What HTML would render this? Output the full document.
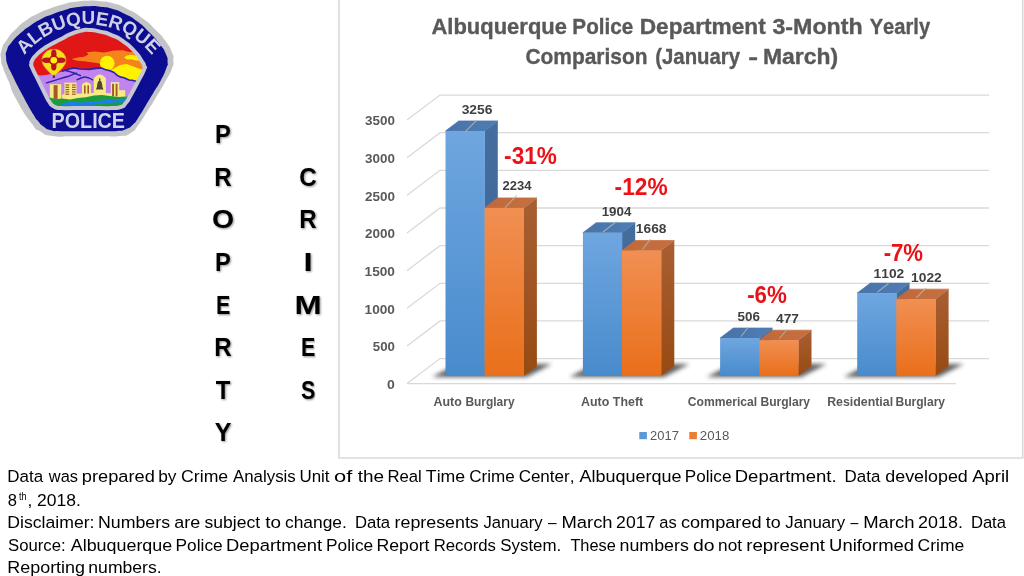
<!DOCTYPE html>
<html><head><meta charset="utf-8"><title>Property Crimes</title>
<style>
html,body{margin:0;padding:0;background:#fff;}
body{width:1024px;height:576px;position:relative;overflow:hidden;font-family:"Liberation Sans",sans-serif;}
svg text{font-family:"Liberation Sans",sans-serif;font-kerning:none;}
</style></head><body>
<svg width="1024" height="576" viewBox="0 0 1024 576" style="position:absolute;left:0;top:0;filter:blur(0.4px)">
<defs>
<linearGradient id="gb" x1="0" y1="0" x2="0" y2="1"><stop offset="0" stop-color="#6fa6e0"/><stop offset="1" stop-color="#488bcc"/></linearGradient>
<linearGradient id="go" x1="0" y1="0" x2="0" y2="1"><stop offset="0" stop-color="#f18f52"/><stop offset="1" stop-color="#e96f1a"/></linearGradient>
<linearGradient id="gbs" x1="0" y1="0" x2="0" y2="1"><stop offset="0" stop-color="#456d9e"/><stop offset="1" stop-color="#3b6396"/></linearGradient>
<linearGradient id="gos" x1="0" y1="0" x2="0" y2="1"><stop offset="0" stop-color="#a85f33"/><stop offset="1" stop-color="#984a12"/></linearGradient>
<linearGradient id="gbt" x1="0" y1="0" x2="1" y2="0"><stop offset="0" stop-color="#4873a8"/><stop offset="1" stop-color="#4e7db5"/></linearGradient>
<linearGradient id="got" x1="0" y1="0" x2="1" y2="0"><stop offset="0" stop-color="#c0683a"/><stop offset="1" stop-color="#c67041"/></linearGradient>
<filter id="sh" x="-20%" y="-60%" width="140%" height="220%"><feGaussianBlur stdDeviation="1.9"/></filter>
<filter id="ts" x="-30%" y="-30%" width="170%" height="170%"><feGaussianBlur in="SourceAlpha" stdDeviation="0.9" result="b"/><feOffset in="b" dx="0.9" dy="1" result="o"/><feComponentTransfer in="o" result="s"><feFuncA type="linear" slope="0.45"/></feComponentTransfer><feMerge><feMergeNode in="s"/><feMergeNode in="SourceGraphic"/></feMerge></filter>
</defs>
<path d="M339,0 V458 H1022.7 V0" fill="none" stroke="#d9d9d9" stroke-width="1.6"/>
<path d="M407.00,383.60 L440.00,358.60 H989.00" fill="none" stroke="#d9d9d9" stroke-width="1.3"/>
<path d="M407.00,345.95 L440.00,320.95 H989.00" fill="none" stroke="#d9d9d9" stroke-width="1.3"/>
<path d="M407.00,308.30 L440.00,283.30 H989.00" fill="none" stroke="#d9d9d9" stroke-width="1.3"/>
<path d="M407.00,270.65 L440.00,245.65 H989.00" fill="none" stroke="#d9d9d9" stroke-width="1.3"/>
<path d="M407.00,233.00 L440.00,208.00 H989.00" fill="none" stroke="#d9d9d9" stroke-width="1.3"/>
<path d="M407.00,195.35 L440.00,170.35 H989.00" fill="none" stroke="#d9d9d9" stroke-width="1.3"/>
<path d="M407.00,157.70 L440.00,132.70 H989.00" fill="none" stroke="#d9d9d9" stroke-width="1.3"/>
<path d="M407.00,120.05 L440.00,95.05 H989.00" fill="none" stroke="#d9d9d9" stroke-width="1.3"/>
<path d="M407.00,383.60 H956.00" fill="none" stroke="#d9d9d9" stroke-width="1.3"/>
<polygon points="432.00,377.00 526.70,377.00 551.90,363.90 457.20,363.90" fill="#3c3c3c" opacity="0.82" filter="url(#sh)"/>
<polygon points="569.40,377.00 664.10,377.00 689.30,363.90 594.60,363.90" fill="#3c3c3c" opacity="0.82" filter="url(#sh)"/>
<polygon points="706.60,377.00 801.30,377.00 826.50,363.90 731.80,363.90" fill="#3c3c3c" opacity="0.82" filter="url(#sh)"/>
<polygon points="843.70,377.00 938.40,377.00 963.60,363.90 868.90,363.90" fill="#3c3c3c" opacity="0.82" filter="url(#sh)"/>
<polygon points="484.60,130.92 497.80,120.92 497.80,366.10 484.60,376.10" fill="url(#gbs)"/>
<polygon points="445.50,130.92 458.70,120.92 497.80,120.92 484.60,130.92" fill="url(#gbt)" stroke="#4b78ae" stroke-width="0.7" stroke-linejoin="round"/>
<rect x="445.50" y="130.92" width="39.40" height="245.18" fill="url(#gb)"/>
<polygon points="523.70,207.88 536.90,197.88 536.90,366.10 523.70,376.10" fill="url(#gos)"/>
<polygon points="484.60,207.88 497.80,197.88 536.90,197.88 523.70,207.88" fill="url(#got)" stroke="#c36c3d" stroke-width="0.7" stroke-linejoin="round"/>
<rect x="484.60" y="207.88" width="39.40" height="168.22" fill="url(#go)"/>
<polygon points="622.00,232.73 635.20,222.73 635.20,366.10 622.00,376.10" fill="url(#gbs)"/>
<polygon points="582.90,232.73 596.10,222.73 635.20,222.73 622.00,232.73" fill="url(#gbt)" stroke="#4b78ae" stroke-width="0.7" stroke-linejoin="round"/>
<rect x="582.90" y="232.73" width="39.40" height="143.37" fill="url(#gb)"/>
<polygon points="661.10,250.50 674.30,240.50 674.30,366.10 661.10,376.10" fill="url(#gos)"/>
<polygon points="622.00,250.50 635.20,240.50 674.30,240.50 661.10,250.50" fill="url(#got)" stroke="#c36c3d" stroke-width="0.7" stroke-linejoin="round"/>
<rect x="622.00" y="250.50" width="39.40" height="125.60" fill="url(#go)"/>
<polygon points="759.20,338.00 772.40,328.00 772.40,366.10 759.20,376.10" fill="url(#gbs)"/>
<polygon points="720.10,338.00 733.30,328.00 772.40,328.00 759.20,338.00" fill="url(#gbt)" stroke="#4b78ae" stroke-width="0.7" stroke-linejoin="round"/>
<rect x="720.10" y="338.00" width="39.40" height="38.10" fill="url(#gb)"/>
<polygon points="798.30,340.18 811.50,330.18 811.50,366.10 798.30,376.10" fill="url(#gos)"/>
<polygon points="759.20,340.18 772.40,330.18 811.50,330.18 798.30,340.18" fill="url(#got)" stroke="#c36c3d" stroke-width="0.7" stroke-linejoin="round"/>
<rect x="759.20" y="340.18" width="39.40" height="35.92" fill="url(#go)"/>
<polygon points="896.30,293.12 909.50,283.12 909.50,366.10 896.30,376.10" fill="url(#gbs)"/>
<polygon points="857.20,293.12 870.40,283.12 909.50,283.12 896.30,293.12" fill="url(#gbt)" stroke="#4b78ae" stroke-width="0.7" stroke-linejoin="round"/>
<rect x="857.20" y="293.12" width="39.40" height="82.98" fill="url(#gb)"/>
<polygon points="935.40,299.14 948.60,289.14 948.60,366.10 935.40,376.10" fill="url(#gos)"/>
<polygon points="896.30,299.14 909.50,289.14 948.60,289.14 935.40,299.14" fill="url(#got)" stroke="#c36c3d" stroke-width="0.7" stroke-linejoin="round"/>
<rect x="896.30" y="299.14" width="39.40" height="76.96" fill="url(#go)"/>
<line x1="476.9" y1="120.0" x2="465.6" y2="131.4" stroke="#b4bcb0" stroke-width="1.1" opacity="0.8"/>
<line x1="516.8" y1="195.3" x2="505.0" y2="207.6" stroke="#b4bcb0" stroke-width="1.1" opacity="0.8"/>
<line x1="616.5" y1="221.5" x2="603.0" y2="232.0" stroke="#b4bcb0" stroke-width="1.1" opacity="0.8"/>
<line x1="650.5" y1="239.0" x2="642.5" y2="249.5" stroke="#b4bcb0" stroke-width="1.1" opacity="0.8"/>
<line x1="748.0" y1="327.5" x2="741.0" y2="336.5" stroke="#b4bcb0" stroke-width="1.1" opacity="0.8"/>
<line x1="787.0" y1="329.5" x2="779.5" y2="338.5" stroke="#b4bcb0" stroke-width="1.1" opacity="0.8"/>
<line x1="888.5" y1="283.5" x2="877.5" y2="292.0" stroke="#b4bcb0" stroke-width="1.1" opacity="0.8"/>
<line x1="926.0" y1="288.0" x2="916.5" y2="297.5" stroke="#b4bcb0" stroke-width="1.1" opacity="0.8"/>
<text y="33.75" font-size="22.2" fill="#595959" font-weight="bold" stroke="#595959" stroke-width="0.35"><tspan x="431.45" textLength="135.55" lengthAdjust="spacingAndGlyphs">Albuquerque</tspan> <tspan x="572.37" textLength="60.84" lengthAdjust="spacingAndGlyphs">Police</tspan> <tspan x="639.73" textLength="126.04" lengthAdjust="spacingAndGlyphs">Department</tspan> <tspan x="772.47" textLength="90.22" lengthAdjust="spacingAndGlyphs">3-Month</tspan> <tspan x="869.66" textLength="60.45" lengthAdjust="spacingAndGlyphs">Yearly</tspan></text>
<text y="63.75" font-size="22.2" fill="#595959" font-weight="bold" stroke="#595959" stroke-width="0.35"><tspan x="525.39" textLength="122.16" lengthAdjust="spacingAndGlyphs">Comparison</tspan> <tspan x="655.24" textLength="84.87" lengthAdjust="spacingAndGlyphs">(January</tspan> <tspan x="748.35" textLength="9.84" lengthAdjust="spacingAndGlyphs">-</tspan> <tspan x="762.97" textLength="75.18" lengthAdjust="spacingAndGlyphs">March)</tspan></text>
<text x="387.14" y="388.95" font-size="13.3" fill="#595959" font-weight="bold" textLength="7.84" lengthAdjust="spacingAndGlyphs" >0</text>
<text x="372.79" y="351.3" font-size="13.3" fill="#595959" font-weight="bold" textLength="22.15" lengthAdjust="spacingAndGlyphs" >500</text>
<text x="364.54" y="313.65" font-size="13.3" fill="#595959" font-weight="bold" textLength="30.42" lengthAdjust="spacingAndGlyphs" >1000</text>
<text x="364.54" y="276.0" font-size="13.3" fill="#595959" font-weight="bold" textLength="30.42" lengthAdjust="spacingAndGlyphs" >1500</text>
<text x="364.93" y="238.35" font-size="13.3" fill="#595959" font-weight="bold" textLength="30.02" lengthAdjust="spacingAndGlyphs" >2000</text>
<text x="364.93" y="200.7" font-size="13.3" fill="#595959" font-weight="bold" textLength="30.02" lengthAdjust="spacingAndGlyphs" >2500</text>
<text x="365.09" y="163.05" font-size="13.3" fill="#595959" font-weight="bold" textLength="29.86" lengthAdjust="spacingAndGlyphs" >3000</text>
<text x="365.09" y="125.4" font-size="13.3" fill="#595959" font-weight="bold" textLength="29.86" lengthAdjust="spacingAndGlyphs" >3500</text>
<text x="461.68" y="114.25" font-size="13.3" fill="#404040" font-weight="bold" textLength="30.82" lengthAdjust="spacingAndGlyphs" >3256</text>
<text x="502.55" y="190" font-size="13.3" fill="#404040" font-weight="bold" textLength="29.02" lengthAdjust="spacingAndGlyphs" >2234</text>
<text x="601.66" y="216" font-size="13.3" fill="#404040" font-weight="bold" textLength="29.66" lengthAdjust="spacingAndGlyphs" >1904</text>
<text x="635.89" y="232.5" font-size="13.3" fill="#404040" font-weight="bold" textLength="30.54" lengthAdjust="spacingAndGlyphs" >1668</text>
<text x="737.59" y="321" font-size="13.3" fill="#404040" font-weight="bold" textLength="22.4" lengthAdjust="spacingAndGlyphs" >506</text>
<text x="776.04" y="323.25" font-size="13.3" fill="#404040" font-weight="bold" textLength="22.81" lengthAdjust="spacingAndGlyphs" >477</text>
<text x="873.63" y="277.5" font-size="13.3" fill="#404040" font-weight="bold" textLength="30.67" lengthAdjust="spacingAndGlyphs" >1102</text>
<text x="911.13" y="282" font-size="13.3" fill="#404040" font-weight="bold" textLength="30.67" lengthAdjust="spacingAndGlyphs" >1022</text>
<text x="504.12" y="163.9" font-size="23.4" fill="#ec1116" font-weight="bold" textLength="52.73" lengthAdjust="spacingAndGlyphs" >-31%</text>
<text x="614.61" y="194.6" font-size="23.4" fill="#ec1116" font-weight="bold" textLength="52.99" lengthAdjust="spacingAndGlyphs" >-12%</text>
<text x="747.13" y="303.2" font-size="23.4" fill="#ec1116" font-weight="bold" textLength="39.71" lengthAdjust="spacingAndGlyphs" >-6%</text>
<text x="883.63" y="260.9" font-size="23.4" fill="#ec1116" font-weight="bold" textLength="39.45" lengthAdjust="spacingAndGlyphs" >-7%</text>
<text y="405.75" font-size="13.4" fill="#595959" font-weight="bold" ><tspan x="433.44" textLength="28.29" lengthAdjust="spacingAndGlyphs">Auto</tspan> <tspan x="465.45" textLength="49.11" lengthAdjust="spacingAndGlyphs">Burglary</tspan></text>
<text y="405.75" font-size="13.4" fill="#595959" font-weight="bold" ><tspan x="580.94" textLength="28.29" lengthAdjust="spacingAndGlyphs">Auto</tspan> <tspan x="612.86" textLength="30.29" lengthAdjust="spacingAndGlyphs">Theft</tspan></text>
<text y="405.75" font-size="13.4" fill="#595959" font-weight="bold" ><tspan x="687.75" textLength="69.35" lengthAdjust="spacingAndGlyphs">Commerical</tspan> <tspan x="760.44" textLength="49.62" lengthAdjust="spacingAndGlyphs">Burglary</tspan></text>
<text y="405.75" font-size="13.4" fill="#595959" font-weight="bold" ><tspan x="827.17" textLength="65.95" lengthAdjust="spacingAndGlyphs">Residential</tspan> <tspan x="895.44" textLength="49.62" lengthAdjust="spacingAndGlyphs">Burglary</tspan></text>
<rect x="639.3" y="432" width="7.6" height="7.2" fill="#5b9bd5"/>
<rect x="689.3" y="432" width="7.6" height="7.2" fill="#ed7d31"/>
<text x="650.1" y="440" font-size="13.5" fill="#595959" font-weight="normal" textLength="28.8" lengthAdjust="spacingAndGlyphs" >2017</text>
<text x="699.83" y="440" font-size="13.5" fill="#595959" font-weight="normal" textLength="29.49" lengthAdjust="spacingAndGlyphs" >2018</text>
<text transform="translate(223.0,143.4) scale(0.9,1)" x="0" y="0" font-size="26.3" font-weight="bold" fill="#000" text-anchor="middle" filter="url(#ts)">P</text>
<text transform="translate(223.0,185.94) scale(0.92,1)" x="0" y="0" font-size="26.3" font-weight="bold" fill="#000" text-anchor="middle" filter="url(#ts)">R</text>
<text transform="translate(223.0,228.48) scale(1.08,1)" x="0" y="0" font-size="26.3" font-weight="bold" fill="#000" text-anchor="middle" filter="url(#ts)">O</text>
<text transform="translate(223.0,271.02) scale(0.9,1)" x="0" y="0" font-size="26.3" font-weight="bold" fill="#000" text-anchor="middle" filter="url(#ts)">P</text>
<text transform="translate(223.0,313.56) scale(0.81,1)" x="0" y="0" font-size="26.3" font-weight="bold" fill="#000" text-anchor="middle" filter="url(#ts)">E</text>
<text transform="translate(223.0,356.1) scale(0.92,1)" x="0" y="0" font-size="26.3" font-weight="bold" fill="#000" text-anchor="middle" filter="url(#ts)">R</text>
<text transform="translate(223.0,398.64) scale(0.91,1)" x="0" y="0" font-size="26.3" font-weight="bold" fill="#000" text-anchor="middle" filter="url(#ts)">T</text>
<text transform="translate(223.0,441.18) scale(0.95,1)" x="0" y="0" font-size="26.3" font-weight="bold" fill="#000" text-anchor="middle" filter="url(#ts)">Y</text>
<text transform="translate(308.0,185.94) scale(0.92,1)" x="0" y="0" font-size="26.3" font-weight="bold" fill="#000" text-anchor="middle" filter="url(#ts)">C</text>
<text transform="translate(308.0,228.48) scale(0.92,1)" x="0" y="0" font-size="26.3" font-weight="bold" fill="#000" text-anchor="middle" filter="url(#ts)">R</text>
<text transform="translate(308.0,271.02) scale(1.25,1)" x="0" y="0" font-size="26.3" font-weight="bold" fill="#000" text-anchor="middle" filter="url(#ts)">I</text>
<text transform="translate(308.0,313.56) scale(1.24,1)" x="0" y="0" font-size="26.3" font-weight="bold" fill="#000" text-anchor="middle" filter="url(#ts)">M</text>
<text transform="translate(308.0,356.1) scale(0.81,1)" x="0" y="0" font-size="26.3" font-weight="bold" fill="#000" text-anchor="middle" filter="url(#ts)">E</text>
<text transform="translate(308.0,398.64) scale(0.81,1)" x="0" y="0" font-size="26.3" font-weight="bold" fill="#000" text-anchor="middle" filter="url(#ts)">S</text>
<text y="482.0" font-size="17.4" fill="#000"><tspan x="7.36" textLength="35.79" lengthAdjust="spacingAndGlyphs">Data</tspan> <tspan x="48.77" textLength="29.22" lengthAdjust="spacingAndGlyphs">was</tspan> <tspan x="81.82" textLength="73.0" lengthAdjust="spacingAndGlyphs">prepared</tspan> <tspan x="158.13" textLength="18.3" lengthAdjust="spacingAndGlyphs">by</tspan> <tspan x="181.1" textLength="47.08" lengthAdjust="spacingAndGlyphs">Crime</tspan> <tspan x="232.97" textLength="62.79" lengthAdjust="spacingAndGlyphs">Analysis</tspan> <tspan x="299.45" textLength="30.08" lengthAdjust="spacingAndGlyphs">Unit</tspan> <tspan x="334.08" textLength="18.29" lengthAdjust="spacingAndGlyphs">of</tspan> <tspan x="357.71" textLength="26.28" lengthAdjust="spacingAndGlyphs">the</tspan> <tspan x="387.38" textLength="34.39" lengthAdjust="spacingAndGlyphs">Real</tspan> <tspan x="425.85" textLength="39.33" lengthAdjust="spacingAndGlyphs">Time</tspan> <tspan x="469.13" textLength="45.53" lengthAdjust="spacingAndGlyphs">Crime</tspan> <tspan x="518.64" textLength="55.79" lengthAdjust="spacingAndGlyphs">Center,</tspan> <tspan x="579.46" textLength="101.98" lengthAdjust="spacingAndGlyphs">Albuquerque</tspan> <tspan x="684.85" textLength="46.56" lengthAdjust="spacingAndGlyphs">Police</tspan> <tspan x="734.73" textLength="101.96" lengthAdjust="spacingAndGlyphs">Department.</tspan> <tspan x="844.61" textLength="35.79" lengthAdjust="spacingAndGlyphs">Data</tspan> <tspan x="885.25" textLength="82.55" lengthAdjust="spacingAndGlyphs">developed</tspan> <tspan x="972.21" textLength="37.02" lengthAdjust="spacingAndGlyphs">April</tspan></text>
<text y="528.25" font-size="17.4" fill="#000"><tspan x="7.3" textLength="87.21" lengthAdjust="spacingAndGlyphs">Disclaimer:</tspan> <tspan x="98.04" textLength="72.0" lengthAdjust="spacingAndGlyphs">Numbers</tspan> <tspan x="174.24" textLength="25.96" lengthAdjust="spacingAndGlyphs">are</tspan> <tspan x="204.51" textLength="55.52" lengthAdjust="spacingAndGlyphs">subject</tspan> <tspan x="265.21" textLength="15.73" lengthAdjust="spacingAndGlyphs">to</tspan> <tspan x="285.01" textLength="61.82" lengthAdjust="spacingAndGlyphs">change.</tspan> <tspan x="354.88" textLength="35.27" lengthAdjust="spacingAndGlyphs">Data</tspan> <tspan x="394.57" textLength="84.23" lengthAdjust="spacingAndGlyphs">represents</tspan> <tspan x="483.49" textLength="59.14" lengthAdjust="spacingAndGlyphs">January</tspan> <tspan x="548.0" textLength="8.61" lengthAdjust="spacingAndGlyphs">–</tspan> <tspan x="561.49" textLength="51.1" lengthAdjust="spacingAndGlyphs">March</tspan> <tspan x="616.11" textLength="39.17" lengthAdjust="spacingAndGlyphs">2017</tspan> <tspan x="659.3" textLength="17.45" lengthAdjust="spacingAndGlyphs">as</tspan> <tspan x="680.98" textLength="80.59" lengthAdjust="spacingAndGlyphs">compared</tspan> <tspan x="765.73" textLength="14.92" lengthAdjust="spacingAndGlyphs">to</tspan> <tspan x="785.24" textLength="59.9" lengthAdjust="spacingAndGlyphs">January</tspan> <tspan x="850.5" textLength="7.86" lengthAdjust="spacingAndGlyphs">–</tspan> <tspan x="863.23" textLength="51.37" lengthAdjust="spacingAndGlyphs">March</tspan> <tspan x="918.1" textLength="44.78" lengthAdjust="spacingAndGlyphs">2018.</tspan> <tspan x="970.89" textLength="35.11" lengthAdjust="spacingAndGlyphs">Data</tspan></text>
<text y="550.75" font-size="17.4" fill="#000"><tspan x="7.99" textLength="57.69" lengthAdjust="spacingAndGlyphs">Source:</tspan> <tspan x="70.72" textLength="101.48" lengthAdjust="spacingAndGlyphs">Albuquerque</tspan> <tspan x="175.58" textLength="47.09" lengthAdjust="spacingAndGlyphs">Police</tspan> <tspan x="225.99" textLength="96.04" lengthAdjust="spacingAndGlyphs">Department</tspan> <tspan x="326.08" textLength="47.09" lengthAdjust="spacingAndGlyphs">Police</tspan> <tspan x="376.55" textLength="52.98" lengthAdjust="spacingAndGlyphs">Report</tspan> <tspan x="433.63" textLength="62.38" lengthAdjust="spacingAndGlyphs">Records</tspan> <tspan x="500.23" textLength="61.06" lengthAdjust="spacingAndGlyphs">System.</tspan> <tspan x="570.38" textLength="45.5" lengthAdjust="spacingAndGlyphs">These</tspan> <tspan x="619.57" textLength="69.22" lengthAdjust="spacingAndGlyphs">numbers</tspan> <tspan x="692.94" textLength="21.53" lengthAdjust="spacingAndGlyphs">do</tspan> <tspan x="718.11" textLength="23.92" lengthAdjust="spacingAndGlyphs">not</tspan> <tspan x="746.26" textLength="78.77" lengthAdjust="spacingAndGlyphs">represent</tspan> <tspan x="829.08" textLength="85.01" lengthAdjust="spacingAndGlyphs">Uniformed</tspan> <tspan x="917.61" textLength="46.67" lengthAdjust="spacingAndGlyphs">Crime</tspan></text>
<text y="573.0" font-size="17.4" fill="#000"><tspan x="7.28" textLength="77.78" lengthAdjust="spacingAndGlyphs">Reporting</tspan> <tspan x="88.33" textLength="73.27" lengthAdjust="spacingAndGlyphs">numbers.</tspan></text>
<text y="505.5" font-size="17.4" fill="#000"><tspan x="7.7" textLength="9.2" lengthAdjust="spacingAndGlyphs">8</tspan><tspan x="19.0" dy="-5.6" font-size="11.2" textLength="7.6" lengthAdjust="spacingAndGlyphs">th</tspan><tspan x="27.6" dy="5.6">,</tspan> <tspan x="37.0" textLength="43.8" lengthAdjust="spacingAndGlyphs">2018.</tspan></text>
</svg>
<svg width="180" height="140" viewBox="0 0 180 140" style="position:absolute;left:0;top:0">
<defs>
<clipPath id="pc"><path id="panel" d="M89.00,29.90 C95.57,30.13 92.33,29.80 100.00,31.60 C107.67,33.40 104.03,31.87 112.00,35.30 C119.97,38.73 116.40,36.58 123.90,41.90 C131.40,47.22 128.67,45.02 134.50,51.25 C140.33,57.48 138.17,55.68 141.40,60.60 C144.63,65.52 143.37,62.87 144.20,66.00 C145.03,69.13 145.88,65.00 143.90,70.00 C141.92,75.00 142.63,72.70 138.25,81.00 C133.87,89.30 134.92,87.57 130.75,94.90 C126.58,102.23 129.08,98.97 125.75,103.00 C122.42,107.03 125.33,105.30 120.75,107.00 C116.17,108.70 118.92,107.73 112.00,108.10 C105.08,108.47 108.00,108.10 100.00,108.10 C92.00,108.10 96.67,108.10 88.00,108.10 C79.33,108.10 83.00,108.10 74.00,108.10 C65.00,108.10 66.80,108.27 61.00,108.10 C55.20,107.93 59.40,108.43 56.60,107.60 C53.80,106.77 54.93,107.40 52.60,105.60 C50.27,103.80 51.93,105.73 49.60,102.20 C47.27,98.67 49.22,102.07 45.60,95.00 C41.98,87.93 43.15,89.93 38.75,81.00 C34.35,72.07 34.85,73.87 32.40,68.20 C29.95,62.53 31.47,66.57 31.40,64.00 C31.33,61.43 30.83,63.23 32.20,60.50 C33.57,57.77 32.10,59.43 35.50,55.80 C38.90,52.17 37.23,53.47 42.40,49.60 C47.57,45.73 44.90,47.63 51.00,44.20 C57.10,40.77 54.20,42.63 60.70,39.30 C67.20,35.97 63.97,37.00 70.50,34.20 C77.03,31.40 74.13,32.33 80.30,30.90 C86.47,29.47 82.43,29.67 89.00,29.90 Z"/></clipPath>
<path id="arc" d="M22.9,57.4 A81.4,81.4 0 0 1 153.7,57.4"/>
<filter id="bb" x="-5%" y="-5%" width="110%" height="110%"><feGaussianBlur stdDeviation="0.5"/></filter>
</defs>
<g filter="url(#bb)">
<path d="M88.00,0.70 C96.33,0.53 92.00,0.50 100.00,1.30 C108.00,2.10 103.00,0.62 112.00,3.10 C121.00,5.58 116.58,3.53 127.00,8.75 C137.42,13.97 133.67,11.67 143.25,18.75 C152.83,25.83 148.25,22.50 155.75,30.00 C163.25,37.50 160.33,33.75 165.75,41.25 C171.17,48.75 169.48,46.25 172.00,52.50 C174.52,58.75 173.30,54.67 173.30,60.00 C173.30,65.33 174.93,60.83 172.00,68.50 C169.07,76.17 169.92,73.17 164.50,83.00 C159.08,92.83 161.58,88.42 155.75,98.00 C149.92,107.58 152.62,103.00 147.00,111.75 C141.38,120.50 144.32,117.17 138.90,124.25 C133.48,131.33 137.22,129.05 130.75,133.00 C124.28,136.95 128.42,135.03 119.50,136.10 C110.58,137.17 114.50,136.17 104.00,136.20 C93.50,136.23 99.33,136.20 88.00,136.20 C76.67,136.20 81.83,136.23 70.00,136.20 C58.17,136.17 62.33,137.67 52.50,136.10 C42.67,134.53 47.58,135.87 40.50,131.50 C33.42,127.13 39.33,133.75 31.25,123.00 C23.17,112.25 23.83,113.25 16.25,99.25 C8.67,85.25 12.88,91.42 8.50,81.00 C4.12,70.58 5.53,75.00 3.10,68.00 C0.67,61.00 1.70,66.00 1.20,60.00 C0.70,54.00 -0.33,56.83 1.60,50.00 C3.53,43.17 2.12,46.58 7.00,39.50 C11.88,32.42 9.92,35.08 16.25,28.75 C22.58,22.42 18.92,25.50 26.00,20.50 C33.08,15.50 29.50,17.78 37.50,13.75 C45.50,9.72 41.67,11.52 50.00,8.40 C58.33,5.28 54.17,6.60 62.50,4.40 C70.83,2.20 66.50,3.03 75.00,1.80 C83.50,0.57 79.67,0.87 88.00,0.70 Z" fill="#c3c4c8"/>
<path d="M90.00,6.20 C98.00,6.00 92.67,5.85 100.00,6.70 C107.33,7.55 103.83,6.40 112.00,8.75 C120.17,11.10 116.17,9.58 124.50,13.75 C132.83,17.92 128.67,15.00 137.00,21.25 C145.33,27.50 142.00,25.00 149.50,32.50 C157.00,40.00 154.08,36.67 159.50,43.75 C164.92,50.83 163.05,47.50 165.75,53.75 C168.45,60.00 167.38,57.75 167.60,62.50 C167.82,67.25 168.68,62.00 166.40,68.00 C164.12,74.00 165.13,72.17 160.75,80.50 C156.37,88.83 158.25,84.67 153.25,93.00 C148.25,101.33 150.53,97.58 145.75,105.50 C140.97,113.42 143.07,110.50 138.90,116.75 C134.73,123.00 137.63,120.08 133.25,124.25 C128.87,128.42 131.17,127.03 125.75,129.25 C120.33,131.47 124.25,130.25 117.00,130.90 C109.75,131.55 113.67,131.10 104.00,131.20 C94.33,131.30 98.67,131.20 88.00,131.20 C77.33,131.20 81.33,131.20 72.00,131.20 C62.67,131.20 67.00,131.53 60.00,131.20 C53.00,130.87 56.50,131.80 51.00,130.20 C45.50,128.60 47.83,129.47 43.50,126.40 C39.17,123.33 41.37,124.97 38.00,121.00 C34.63,117.03 38.93,123.83 33.40,114.50 C27.87,105.17 28.93,107.17 21.40,93.00 C13.87,78.83 15.27,81.00 10.80,72.00 C6.33,63.00 9.57,70.83 8.00,66.00 C6.43,61.17 6.43,62.83 6.10,57.50 C5.77,52.17 5.20,55.00 7.00,50.00 C8.80,45.00 6.75,48.30 11.50,42.50 C16.25,36.70 14.92,38.30 21.25,32.60 C27.58,26.90 23.83,29.97 30.50,25.40 C37.17,20.83 33.92,22.63 41.25,18.90 C48.58,15.17 44.58,17.17 52.50,14.20 C60.42,11.23 57.17,12.30 65.00,10.00 C72.83,7.70 67.67,8.57 76.00,7.30 C84.33,6.03 82.00,6.40 90.00,6.20 Z" fill="#0a0a92"/>
<g clip-path="url(#pc)">
<rect x="26" y="26" width="124" height="86" fill="#e11219"/>
<!-- orange cloud -->
<path d="M71.5,59 L78,57.6 L84,56.8 L88.5,54.4 L86.5,52.2 L95,51.5 L104,52.4 L114,50.4 L123,50.3 L128,51.8 L134,52.2 L142,57 L148,62 L148,76 L130,70.5 L118,70 L112,70 L100,63.6 L86,61.6 L76,60.4 Z" fill="#f6821f"/>
<!-- yellow clouds -->
<path d="M124,57.6 L127,55.6 L131,54.8 L136,55.6 L140,57 L141.6,60.6 L136,60.5 L131,59.3 L127,59.6 Z" fill="#fff200"/>
<path d="M106,70.8 L112.5,69.5 L116,67.2 L120,65 L126.5,64.1 L134,66.7 L141,69.2 L148,72 L148,90 L128,84 L112.5,76 L106,72 Z" fill="#fff200"/>
<!-- sun -->
<circle cx="107.2" cy="63.2" r="7.4" fill="#fff200"/>
<!-- mountains -->
<path d="M26,78.5 L30,77.5 L36,75 L42,75.4 L50,74.2 L58,73 L64,70.6 L69,69 L74,68 L80,69 L89,69.4 L96,68.4 L101.5,68 L105,69.4 L110,70.8 L114,72.5 L120,76.9 L129,80 L136,81.3 L150,85 L150,112 L26,112 Z" fill="#c184ee"/>
<g fill="none" stroke="#2a22a8" stroke-width="1.4" stroke-linecap="round" stroke-linejoin="round">
<path d="M46.5,82.8 L54,80.6 L59.6,78.9 L64,77.5 L68.9,76.2 L73,74.4 L76.5,73.1"/>
<path d="M64.9,70.5 L69,71.3 L74,73 L80.5,75.6"/>
<path d="M77,79.8 L81,78 L85,76.9 L89,78 L92.8,80"/>
<path d="M62.5,71.2 L64,70.6 L69,69 L74,68 L80,69 L89,69.4 L96,68.4 L101.5,68 L105,69.4 L110,70.8 L114,72.5 L117,75.2 L120,76.9 L124,77.8 L129,80 L132,80.2 L136,81.3 L141,82.6" stroke-width="1.6"/>
</g>
<!-- balloon -->
<path d="M53.8,49.3 C60.8,49.3 66,54.2 66,60.2 C66,65.6 60.4,70 55.4,75 L52.2,75 C47.2,70 42,65.6 42,60.2 C42,54.2 46.8,49.3 53.8,49.3 Z" fill="#f5de1e" stroke="#e2a322" stroke-width="0.7"/>
<rect x="52.8" y="75.4" width="2" height="2.6" fill="#3a2a58"/>
<g fill="#b8121f">
<ellipse cx="53.8" cy="54.2" rx="2.7" ry="4.6"/><ellipse cx="53.8" cy="66.2" rx="2.7" ry="4.2"/><ellipse cx="47" cy="60.3" rx="4.9" ry="2.7"/><ellipse cx="60.6" cy="60.3" rx="4.9" ry="2.7"/>
<circle cx="53.8" cy="60.3" r="4.9"/>
</g>
<circle cx="53.8" cy="60.3" r="3.3" fill="#fff200"/>
<!-- buildings -->
<g fill="#f6ea84">
<rect x="49.8" y="84.2" width="11.4" height="16"/>
<rect x="64.4" y="82.6" width="12.1" height="16"/>
<path d="M82,95 V84.4 Q86.4,79.4 90.9,84.4 V95 Z"/>
<path d="M93.8,97 V78.2 Q99.8,70.6 105.9,78.2 V97 Z"/>
<rect x="110.8" y="82" width="8.4" height="16"/>
<rect x="119" y="90.2" width="6.2" height="8"/>
<path d="M62,94.5 L82,93.4 L100,92.4 L112,93.6 L126,96.5 L126,100 L62,100 Z"/>
</g>
<rect x="110.8" y="82" width="8.4" height="1.3" fill="#dcdcd4"/>
<g fill="#a5562a">
<rect x="53.6" y="85.2" width="4" height="14.5"/>
<rect x="65.4" y="84.4" width="3.8" height="1.2"/><rect x="65.4" y="86.7" width="3.8" height="1.2"/><rect x="65.4" y="89" width="3.8" height="1.2"/><rect x="65.4" y="91.3" width="3.8" height="1.2"/><rect x="65.4" y="93.6" width="3.8" height="1.2"/>
<rect x="72" y="84.4" width="3.7" height="1.2"/><rect x="72" y="86.7" width="3.7" height="1.2"/><rect x="72" y="89" width="3.7" height="1.2"/><rect x="72" y="91.3" width="3.7" height="1.2"/><rect x="72" y="93.6" width="3.7" height="1.2"/>
<rect x="84" y="85.4" width="1.6" height="8.2"/><rect x="87.4" y="85.4" width="1.6" height="8.2"/>
<rect x="112.1" y="83.8" width="1.9" height="12.6"/><rect x="115.6" y="83.8" width="1.9" height="12.6"/>
</g>
<path d="M95.9,89.6 L96.9,87 Q97.2,81 99.7,80.2 Q102.2,81 102.5,87 L103.5,89.6 Z" fill="#54452a"/>
<rect x="99" y="78.4" width="1.4" height="2.2" fill="#54452a"/>
<!-- green & river -->
<path d="M26,99 L50,97.6 L56,99.2 L62,98.4 L70,99.6 L78,98 L86,97.2 L94,95.6 L102,95 L110,96 L118,97 L126,96.4 L150,97 L150,112 L26,112 Z" fill="#1e9c3c"/>
<path d="M62,103.2 L70,102 L84,102.6 L96,101.2 L106,99.8 L116,99 L128,98.6 L128,102 L116,102.4 L106,103.2 L96,104.6 L84,105.8 L70,105.6 L62,106 Z" fill="#1f7fe6"/>

</g>
<use href="#panel" fill="none" stroke="#c6c7d2" stroke-width="4" stroke-linejoin="round"/>
<text font-family="Liberation Sans, sans-serif" font-weight="bold" font-size="18.9" fill="#cfd0e4" text-anchor="middle" letter-spacing="-0.2"><textPath href="#arc" startOffset="50%">ALBUQUERQUE</textPath></text>
<text x="88.3" y="128.2" font-family="Liberation Sans, sans-serif" font-weight="bold" font-size="21.4" fill="#d2d3e6" text-anchor="middle" textLength="73.5" lengthAdjust="spacingAndGlyphs">POLICE</text>
</g>
</svg>

</body></html>
